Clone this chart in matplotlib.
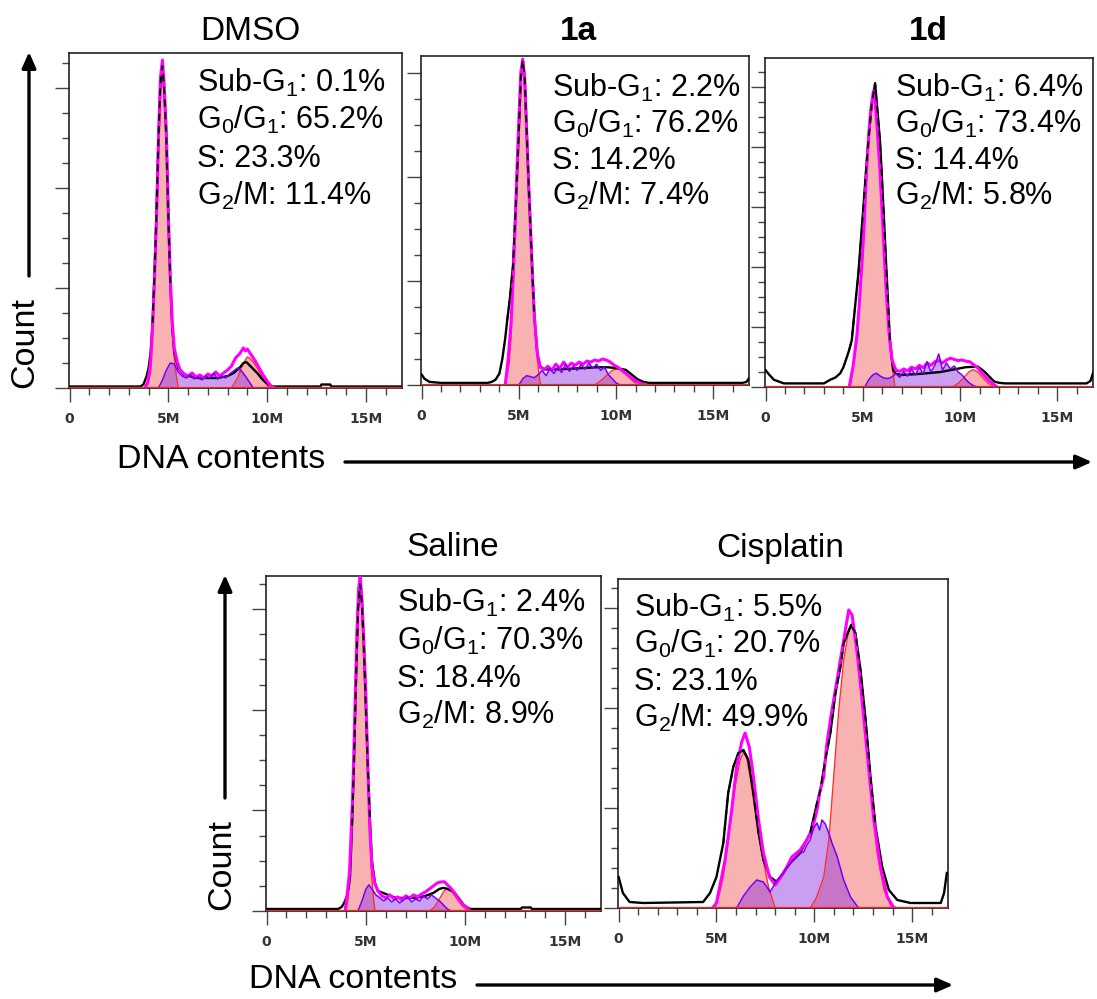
import matplotlib
matplotlib.use("Agg")
import matplotlib.pyplot as plt
import numpy as np
from matplotlib.ticker import MultipleLocator

plt.rcParams["font.family"] = ["Liberation Sans", "DejaVu Sans"]
plt.rcParams["mathtext.fontset"] = "custom"
plt.rcParams["mathtext.rm"] = "Liberation Sans"
plt.rcParams["mathtext.it"] = "Liberation Sans:italic"
plt.rcParams["mathtext.bf"] = "Liberation Sans:bold"

# ---------------- data (x in millions, y in count units of each panel) ----------------
# DMSO
dmso_g1_x = [3.9, 4.1, 4.2, 4.3, 4.4, 4.5, 4.6, 4.7, 4.8, 4.9, 5.0, 5.1, 5.2, 5.35, 5.5]
dmso_g1_y = [0, 0.15, 0.5, 1.0, 1.6, 2.4, 3.05, 3.25, 2.95, 2.5, 1.65, 1.0, 0.55, 0.2, 0]
dmso_g2_x = [8.2, 8.5, 8.7, 8.9, 9.0, 9.1, 9.3, 9.5, 9.7, 9.9, 10.1]
dmso_g2_y = [0, 0.1, 0.2, 0.28, 0.31, 0.3, 0.26, 0.2, 0.13, 0.06, 0]
dmso_s_x = [4.5, 4.7, 4.9, 5.1, 5.3, 5.5, 5.7, 5.9, 6.1, 6.3, 6.5, 6.7, 6.9, 7.1, 7.3, 7.5,
            7.7, 7.9, 8.1, 8.3, 8.5, 8.7, 8.9, 9.1, 9.3]
dmso_s_y = [0, 0.08, 0.18, 0.25, 0.24, 0.16, 0.12, 0.10, 0.13, 0.09, 0.11, 0.08, 0.12, 0.10,
            0.15, 0.09, 0.12, 0.10, 0.14, 0.17, 0.20, 0.17, 0.12, 0.06, 0]
dmso_fit_x = [3.8, 3.95, 4.1, 4.2, 4.3, 4.4, 4.5, 4.6, 4.7, 4.8, 4.9, 5.0, 5.1, 5.2, 5.3, 5.45,
              5.6, 5.8, 6.0, 6.2, 6.4, 6.6, 6.8, 7.0, 7.2, 7.4, 7.6, 7.8, 8.0, 8.2, 8.4, 8.6,
              8.8, 8.9, 9.0, 9.1, 9.2, 9.4, 9.6, 9.8, 10.0, 10.2, 10.4]
dmso_fit_y = [0.0, 0.05, 0.25, 0.6, 1.1, 1.7, 2.5, 3.1, 3.28, 3.0, 2.55, 1.75, 1.1, 0.65, 0.4,
              0.26, 0.18, 0.14, 0.12, 0.15, 0.11, 0.13, 0.10, 0.14, 0.12, 0.16, 0.12, 0.15, 0.18,
              0.22, 0.30, 0.34, 0.40, 0.37, 0.39, 0.36, 0.33, 0.27, 0.20, 0.13, 0.07, 0.02, 0.0]
dmso_raw_x = [0, 3.6, 3.75, 3.9, 4.0, 4.1, 4.2, 4.3, 4.4, 4.5, 4.6, 4.7, 4.8, 4.9, 5.0, 5.1,
              5.2, 5.3, 5.5, 5.8, 6.5, 7.5, 8.0, 8.3, 8.6, 8.8, 8.95, 9.1, 9.3, 9.5, 9.7, 9.9,
              10.1, 10.3, 12.7, 12.75, 13.2, 13.25, 16.85]
dmso_raw_y = [0.015, 0.015, 0.04, 0.12, 0.2, 0.35, 0.65, 1.15, 1.75, 2.5, 3.05, 3.22, 2.95, 2.5,
              1.7, 1.05, 0.6, 0.35, 0.2, 0.13, 0.1, 0.1, 0.12, 0.15, 0.2, 0.25, 0.26, 0.23,
              0.19, 0.15, 0.1, 0.06, 0.03, 0.015, 0.015, 0.035, 0.035, 0.015, 0.015]

# 1a
c1a_g1_x = [4.3, 4.5, 4.6, 4.7, 4.8, 4.9, 5.0, 5.1, 5.2, 5.3, 5.4, 5.5, 5.6, 5.7, 5.8, 5.95, 6.1]
c1a_g1_y = [0, 0.2, 0.45, 0.9, 1.4, 2.0, 2.5, 2.95, 3.11, 2.9, 2.4, 1.9, 1.45, 1.0, 0.6, 0.25, 0]
c1a_g2_x = [8.9, 9.2, 9.5, 9.8, 10.05, 10.3, 10.6, 10.85, 11.1]
c1a_g2_y = [0, 0.04, 0.09, 0.14, 0.155, 0.14, 0.09, 0.04, 0]
c1a_s_x = [5.0, 5.2, 5.4, 5.6, 5.8, 6.0, 6.2, 6.4, 6.6, 6.8, 7.0, 7.2, 7.4, 7.6, 7.8, 8.0, 8.2,
           8.4, 8.6, 8.8, 9.0, 9.2, 9.4, 9.6, 9.8, 10.0, 10.2]
c1a_s_y = [0, 0.06, 0.09, 0.08, 0.07, 0.10, 0.14, 0.09, 0.16, 0.11, 0.17, 0.12, 0.20, 0.13,
           0.18, 0.14, 0.20, 0.15, 0.21, 0.16, 0.20, 0.14, 0.17, 0.10, 0.06, 0.02, 0]
c1a_fit_x = [4.3, 4.45, 4.6, 4.7, 4.8, 4.9, 5.0, 5.1, 5.2, 5.3, 5.4, 5.5, 5.6, 5.7, 5.8, 5.95,
             6.1, 6.3, 6.5, 6.7, 6.9, 7.1, 7.3, 7.5, 7.7, 7.9, 8.1, 8.3, 8.5, 8.7, 8.9, 9.1,
             9.3, 9.5, 9.7, 9.9, 10.1, 10.3, 10.5, 10.7, 10.9, 11.1, 11.3, 11.5]
c1a_fit_y = [0.0, 0.25, 0.6, 1.0, 1.5, 2.05, 2.55, 3.0, 3.13, 2.95, 2.45, 1.95, 1.5, 1.05, 0.65,
             0.3, 0.17, 0.15, 0.18, 0.14, 0.20, 0.16, 0.22, 0.17, 0.21, 0.19, 0.22, 0.20, 0.23,
             0.22, 0.24, 0.23, 0.25, 0.24, 0.22, 0.19, 0.17, 0.14, 0.11, 0.08, 0.05, 0.03,
             0.015, 0.0]
c1a_raw_x = [0, 0.15, 0.4, 1.0, 3.4, 3.6, 3.8, 4.0, 4.15, 4.3, 4.4, 4.55, 4.7, 4.85, 5.0, 5.1,
             5.2, 5.3, 5.4, 5.5, 5.6, 5.7, 5.8, 5.95, 6.1, 6.3, 7.0, 8.0, 9.0, 9.6, 10.1, 10.5,
             10.8, 11.1, 11.4, 11.7, 16.5, 16.7, 16.85]
c1a_raw_y = [0.1, 0.06, 0.03, 0.02, 0.02, 0.03, 0.05, 0.11, 0.25, 0.45, 0.62, 0.85, 1.15, 1.75,
             2.45, 2.95, 3.12, 2.95, 2.45, 1.95, 1.5, 1.05, 0.65, 0.3, 0.18, 0.15, 0.15, 0.16,
             0.17, 0.17, 0.16, 0.145, 0.1, 0.055, 0.03, 0.02, 0.02, 0.03, 0.07]

# 1d
c1d_g1_x = [4.35, 4.5, 4.69, 4.8, 4.94, 5.05, 5.2, 5.3, 5.4, 5.54, 5.65, 5.75, 5.88, 6.0, 6.14,
            6.25, 6.36, 6.5, 6.65]
c1d_g1_y = [0, 0.3, 0.78, 1.2, 1.89, 2.5, 3.56, 4.1, 4.5, 4.87, 4.65, 4.2, 3.56, 2.8, 1.89, 1.3,
            0.78, 0.35, 0]
c1d_g2_x = [9.6, 9.9, 10.2, 10.45, 10.66, 10.9, 11.15, 11.45, 11.76]
c1d_g2_y = [0, 0.06, 0.16, 0.25, 0.29, 0.25, 0.16, 0.06, 0]
c1d_s_x = [5.1, 5.3, 5.5, 5.7, 5.9, 6.1, 6.3, 6.5, 6.7, 6.9, 7.1, 7.3, 7.5, 7.7, 7.9, 8.1, 8.3,
           8.5, 8.7, 8.9, 9.1, 9.3, 9.5, 9.7, 9.9, 10.1, 10.3, 10.5, 10.7, 10.9]
c1d_s_y = [0, 0.12, 0.2, 0.23, 0.18, 0.15, 0.14, 0.17, 0.22, 0.16, 0.26, 0.18, 0.30, 0.20, 0.33,
           0.22, 0.42, 0.25, 0.36, 0.55, 0.28, 0.40, 0.30, 0.35, 0.25, 0.20, 0.12, 0.06, 0.02, 0]
c1d_fit_x = [4.3, 4.5, 4.69, 4.8, 4.94, 5.05, 5.2, 5.3, 5.4, 5.54, 5.65, 5.75, 5.88, 6.0, 6.14,
             6.25, 6.36, 6.5, 6.7, 6.9, 7.1, 7.3, 7.5, 7.7, 7.9, 8.1, 8.3, 8.5, 8.7, 8.9, 9.1,
             9.3, 9.5, 9.7, 9.9, 10.1, 10.3, 10.5, 10.7, 10.9, 11.1, 11.3, 11.5, 11.7, 11.9]
c1d_fit_y = [0.0, 0.35, 0.85, 1.3, 2.0, 2.6, 3.65, 4.2, 4.6, 4.93, 4.7, 4.25, 3.6, 2.85, 1.95,
             1.35, 0.85, 0.45, 0.28, 0.26, 0.30, 0.27, 0.33, 0.30, 0.36, 0.32, 0.40, 0.36, 0.42,
             0.44, 0.40, 0.45, 0.48, 0.46, 0.44, 0.45, 0.43, 0.42, 0.37, 0.32, 0.24, 0.17, 0.10,
             0.05, 0.0]
c1d_raw_x = [0, 0.2, 0.43, 0.94, 3.0, 3.32, 3.6, 3.84, 4.0, 4.18, 4.3, 4.43, 4.6, 4.77, 4.9,
             5.03, 5.15, 5.29, 5.45, 5.63, 5.75, 5.88, 5.97, 6.1, 6.22, 6.39, 6.56, 6.7, 7.0,
             8.0, 9.0, 9.8, 10.3, 10.9, 11.2, 11.42, 11.6, 11.76, 12.0, 12.3, 16.5, 16.7, 16.85]
c1d_raw_y = [0.28, 0.2, 0.12, 0.06, 0.06, 0.12, 0.16, 0.23, 0.33, 0.5, 0.62, 0.78, 1.34, 1.89,
             2.45, 3.0, 3.55, 4.12, 4.7, 5.06, 4.6, 4.1, 3.56, 2.7, 1.89, 0.78, 0.28, 0.22, 0.2,
             0.22, 0.25, 0.3, 0.33, 0.34, 0.27, 0.2, 0.14, 0.09, 0.07, 0.06, 0.06, 0.1, 0.25]

# Saline
sal_g1_x = [4.0, 4.1, 4.17, 4.25, 4.34, 4.4, 4.47, 4.55, 4.63, 4.71, 4.8, 4.9, 4.99, 5.06, 5.13,
            5.2, 5.29, 5.38, 5.46]
sal_g1_y = [0, 0.12, 0.34, 0.7, 1.17, 1.6, 2.17, 2.75, 3.15, 3.28, 3.05, 2.6, 2.17, 1.65, 1.17,
            0.7, 0.34, 0.12, 0]
sal_g2_x = [8.2, 8.45, 8.7, 8.9, 9.08, 9.3, 9.55, 9.85, 10.15]
sal_g2_y = [0, 0.04, 0.12, 0.19, 0.225, 0.2, 0.13, 0.05, 0]
sal_s_x = [4.6, 4.8, 5.0, 5.15, 5.3, 5.5, 5.7, 5.9, 6.1, 6.3, 6.5, 6.7, 6.9, 7.1, 7.3, 7.5, 7.7,
           7.9, 8.1, 8.3, 8.5, 8.7, 8.9, 9.1, 9.3]
sal_s_y = [0, 0.10, 0.22, 0.26, 0.22, 0.16, 0.13, 0.10, 0.13, 0.09, 0.12, 0.08, 0.11, 0.14, 0.09,
           0.12, 0.10, 0.15, 0.12, 0.16, 0.13, 0.10, 0.06, 0.02, 0]
sal_fit_x = [3.95, 4.05, 4.17, 4.25, 4.34, 4.4, 4.47, 4.55, 4.63, 4.71, 4.8, 4.9, 4.99, 5.06,
             5.13, 5.2, 5.3, 5.45, 5.6, 5.8, 6.0, 6.2, 6.4, 6.6, 6.8, 7.0, 7.2, 7.4, 7.6, 7.8,
             8.0, 8.2, 8.4, 8.6, 8.8, 8.95, 9.1, 9.3, 9.5, 9.7, 9.9, 10.1, 10.25]
sal_fit_y = [0.0, 0.15, 0.38, 0.75, 1.2, 1.65, 2.2, 2.8, 3.2, 3.33, 3.1, 2.65, 2.2, 1.7, 1.22,
             0.8, 0.45, 0.27, 0.2, 0.15, 0.13, 0.16, 0.12, 0.14, 0.11, 0.15, 0.13, 0.16, 0.14,
             0.17, 0.19, 0.22, 0.25, 0.28, 0.29, 0.29, 0.26, 0.22, 0.17, 0.11, 0.06, 0.03, 0.0]
sal_raw_x = [0, 3.6, 3.78, 3.9, 4.03, 4.12, 4.2, 4.3, 4.4, 4.5, 4.6, 4.71, 4.8, 4.9, 5.0, 5.1,
             5.2, 5.3, 5.45, 5.6, 6.5, 7.5, 8.0, 8.4, 8.7, 8.9, 9.1, 9.41, 9.7, 9.92, 10.1,
             10.25, 12.8, 12.85, 13.3, 13.35, 16.85]
sal_raw_y = [0.02, 0.02, 0.04, 0.08, 0.14, 0.22, 0.34, 0.85, 1.5, 2.3, 3.0, 3.25, 3.05, 2.6, 2.0,
             1.4, 0.9, 0.5, 0.28, 0.2, 0.13, 0.13, 0.15, 0.18, 0.22, 0.23, 0.22, 0.19, 0.12,
             0.06, 0.035, 0.02, 0.02, 0.035, 0.035, 0.02, 0.02]

# Cisplatin
cis_g1_x = [4.92, 5.1, 5.35, 5.69, 5.95, 6.21, 6.38, 6.55, 6.72, 6.97, 7.32, 7.66, 8.0]
cis_g1_y = [0, 0.1, 0.31, 0.81, 1.21, 1.48, 1.56, 1.5, 1.31, 0.98, 0.55, 0.21, 0]
cis_g2_x = [9.79, 10.1, 10.48, 10.74, 10.99, 11.25, 11.5, 11.76, 11.93, 12.1, 12.36, 12.62,
            12.87, 13.21, 13.56, 13.9, 14.24]
cis_g2_y = [0, 0.1, 0.31, 0.68, 1.31, 1.98, 2.48, 2.78, 2.85, 2.75, 2.35, 1.81, 1.21, 0.55,
            0.18, 0.03, 0]
cis_s_x = [6.03, 6.38, 6.72, 7.06, 7.4, 7.74, 8.09, 8.25, 8.43, 8.6, 8.77, 8.94, 9.11, 9.28,
           9.46, 9.62, 9.79, 9.97, 10.14, 10.27, 10.39, 10.56, 10.74, 10.9, 11.16, 11.33, 11.5,
           11.85, 12.26]
cis_s_y = [0, 0.12, 0.21, 0.28, 0.26, 0.16, 0.28, 0.31, 0.35, 0.41, 0.44, 0.48, 0.52, 0.55,
           0.56, 0.63, 0.68, 0.8, 0.85, 0.78, 0.88, 0.84, 0.75, 0.65, 0.52, 0.4, 0.28, 0.11, 0]
cis_fit_x = [4.8, 5.0, 5.44, 5.78, 6.03, 6.29, 6.46, 6.68, 6.89, 7.15, 7.4, 7.71, 8.0, 8.26,
             8.6, 8.85, 9.28, 9.62, 9.88, 10.14, 10.27, 10.48, 10.62, 10.82, 11.16, 11.5, 11.76,
             11.93, 12.19, 12.44, 12.7, 13.04, 13.38, 13.73, 14.07]
cis_fit_y = [0.0, 0.05, 0.48, 0.98, 1.41, 1.66, 1.75, 1.61, 1.31, 0.88, 0.55, 0.31, 0.23, 0.30,
             0.41, 0.51, 0.58, 0.68, 0.78, 0.98, 1.15, 1.31, 1.61, 1.88, 2.28, 2.68, 2.98, 2.93,
             2.55, 2.08, 1.55, 0.88, 0.41, 0.11, 0.0]
cis_raw_x = [0, 0.22, 0.56, 1.25, 4.32, 4.67, 5.0, 5.35, 5.6, 5.86, 6.12, 6.38, 6.63, 6.89,
             7.15, 7.4, 7.74, 8.09, 8.26, 8.77, 9.28, 9.79, 10.14, 10.31, 10.56, 10.82, 11.08,
             11.33, 11.5, 11.71, 11.88, 12.1, 12.36, 12.62, 12.87, 13.13, 13.47, 13.81, 14.24,
             14.92, 16.46, 16.63, 16.77]
cis_raw_y = [0.31, 0.15, 0.06, 0.05, 0.06, 0.15, 0.31, 0.65, 1.15, 1.41, 1.55, 1.58, 1.48,
             1.15, 0.75, 0.48, 0.31, 0.26, 0.31, 0.45, 0.55, 0.75, 1.05, 1.18, 1.48, 1.75, 2.15,
             2.41, 2.65, 2.75, 2.83, 2.75, 2.38, 1.88, 1.31, 0.81, 0.41, 0.18, 0.08, 0.05, 0.05,
             0.15, 0.35]

titles = ["DMSO", "1a", "1d", "Saline", "Cisplatin"]
title_bold = [False, True, True, False, False]
stat_labels = ["Sub-G$_1$: ", "G$_0$/G$_1$: ", "S: ", "G$_2$/M: "]
dmso_stats = ["0.1%", "65.2%", "23.3%", "11.4%"]
c1a_stats = ["2.2%", "76.2%", "14.2%", "7.4%"]
c1d_stats = ["6.4%", "73.4%", "14.4%", "5.8%"]
sal_stats = ["2.4%", "70.3%", "18.4%", "8.9%"]
cis_stats = ["5.5%", "20.7%", "23.1%", "49.9%"]
x_ticks = [0, 5, 10, 15]
x_tick_labels = ["0", "5M", "10M", "15M"]

panels = [
    dict(g1=(dmso_g1_x, dmso_g1_y), g2=(dmso_g2_x, dmso_g2_y), s=(dmso_s_x, dmso_s_y),
         fit=(dmso_fit_x, dmso_fit_y), raw=(dmso_raw_x, dmso_raw_y), stats=dmso_stats),
    dict(g1=(c1a_g1_x, c1a_g1_y), g2=(c1a_g2_x, c1a_g2_y), s=(c1a_s_x, c1a_s_y),
         fit=(c1a_fit_x, c1a_fit_y), raw=(c1a_raw_x, c1a_raw_y), stats=c1a_stats),
    dict(g1=(c1d_g1_x, c1d_g1_y), g2=(c1d_g2_x, c1d_g2_y), s=(c1d_s_x, c1d_s_y),
         fit=(c1d_fit_x, c1d_fit_y), raw=(c1d_raw_x, c1d_raw_y), stats=c1d_stats),
    dict(g1=(sal_g1_x, sal_g1_y), g2=(sal_g2_x, sal_g2_y), s=(sal_s_x, sal_s_y),
         fit=(sal_fit_x, sal_fit_y), raw=(sal_raw_x, sal_raw_y), stats=sal_stats),
    dict(g1=(cis_g1_x, cis_g1_y), g2=(cis_g2_x, cis_g2_y), s=(cis_s_x, cis_s_y),
         fit=(cis_fit_x, cis_fit_y), raw=(cis_raw_x, cis_raw_y), stats=cis_stats),
]

# ---------------- layout (figure pixels) ----------------
W, H = 1097, 999
# left, right, top, bottom of each plot box, y max, y major step, y minor step
boxes = [
    (69, 402, 53, 388, 3.35, 1, 0.25),
    (421, 749, 56, 385, 3.16, 1, 0.25),
    (765, 1093, 58, 387, 5.48, 1, 0.25),
    (266, 601, 576, 911, 3.33, 1, 0.25),
    (618, 948, 579, 908, 3.29, 1, 0.2),
]
title_pos = [(250, 32), (578, 32), (928, 32), (453, 548), (780, 548)]
stat_pos = [(197, [82, 119, 157, 195]), (552, [87, 123, 159, 195]),
            (895, [87, 123, 159, 195]), (397, [602, 640, 677, 714]),
            (634, [607, 643, 680, 717])]

PINK = "#F04040"
PURPLE = "#8A2BE2"

fig = plt.figure(figsize=(W / 100, H / 100), dpi=100)

for d, (l, r, t, b, ymax, ymaj, ymin) in zip(panels, boxes):
    ax = fig.add_axes([l / W, 1 - b / H, (r - l) / W, (b - t) / H])
    ax.set_xlim(-0.03, 16.83)
    ax.set_ylim(0, ymax)

    for key in ("g1", "g2"):
        x, y = d[key]
        ax.fill_between(x, y, color=PINK, alpha=0.4, lw=0, zorder=1)
    sx, sy = d["s"]
    ax.fill_between(sx, sy, color=PURPLE, alpha=0.45, lw=0, zorder=2)
    for key in ("g1", "g2"):
        x, y = d[key]
        ax.plot(x, y, color="#FF3030", lw=1.0, zorder=3)
    rx, ry = d["raw"]
    ax.plot(rx, ry, color="black", lw=1.7, zorder=4)
    fx, fy = d["fit"]
    ax.plot(fx, fy, color="#FF00FF", lw=2.2, zorder=5)
    ax.plot(sx, sy, color="#7A00F0", lw=1.1, zorder=6)
    # dashed look of raw trace drawn over the fitted peaks
    ry_hi = np.where(np.array(ry) > 0.6, ry, np.nan)
    ax.plot(rx, ry_hi, color="black", lw=1.3, ls=(0, (4, 3)), zorder=7)
    ax.axhline(0, color="#FF2020", lw=1.6, zorder=8)

    ax.set_xticks(x_ticks)
    ax.set_xticklabels(x_tick_labels)
    ax.xaxis.set_minor_locator(MultipleLocator(1))
    ax.yaxis.set_major_locator(MultipleLocator(ymaj))
    ax.yaxis.set_minor_locator(MultipleLocator(ymin))
    ax.tick_params(which="major", length=10, width=1, color="#444444", direction="out")
    ax.tick_params(which="minor", length=5, width=1, color="#444444", direction="out")
    ax.tick_params(axis="x", labelsize=10, pad=7, labelcolor="#333333")
    ax.tick_params(axis="y", labelleft=False)
    for lab in ax.get_xticklabels():
        lab.set_family("DejaVu Sans")
        lab.set_fontweight("bold")
    for sp in ax.spines.values():
        sp.set_color("#222222")
        sp.set_linewidth(1.2)

# overlay in pixel coordinates for titles, stats, arrows and axis words
ov = fig.add_axes([0, 0, 1, 1], zorder=20)
ov.set_xlim(0, W)
ov.set_ylim(H, 0)
ov.axis("off")
ov.patch.set_alpha(0)

for name, bold, (tx, ty) in zip(titles, title_bold, title_pos):
    ov.text(tx, ty, name, ha="center", va="center", fontsize=24,
            fontweight="bold" if bold else "normal")

for d, (sx0, ys) in zip(panels, stat_pos):
    for lab, val, yc in zip(stat_labels, d["stats"], ys):
        ov.text(sx0, yc + 10, lab + val, ha="left", va="baseline", fontsize=22)

arrow_kw = dict(arrowstyle="-|>,head_length=0.95,head_width=0.42", lw=2.4, color="black",
                shrinkA=0, shrinkB=0, mutation_scale=10)
ov.annotate("", xy=(29, 52), xytext=(29, 276), arrowprops=arrow_kw)
ov.annotate("", xy=(1092, 462), xytext=(345, 462), arrowprops=arrow_kw)
ov.annotate("", xy=(225, 575), xytext=(225, 798), arrowprops=arrow_kw)
ov.annotate("", xy=(953, 985), xytext=(477, 985), arrowprops=arrow_kw)

ov.text(25, 343, "Count", rotation=90, ha="center", va="center", fontsize=24.5)
ov.text(222, 865, "Count", rotation=90, ha="center", va="center", fontsize=24.5)
ov.text(325, 460, "DNA contents", ha="right", va="center", fontsize=24.5)
ov.text(457, 980, "DNA contents", ha="right", va="center", fontsize=24.5)

fig.savefig("out.png", dpi=100)
